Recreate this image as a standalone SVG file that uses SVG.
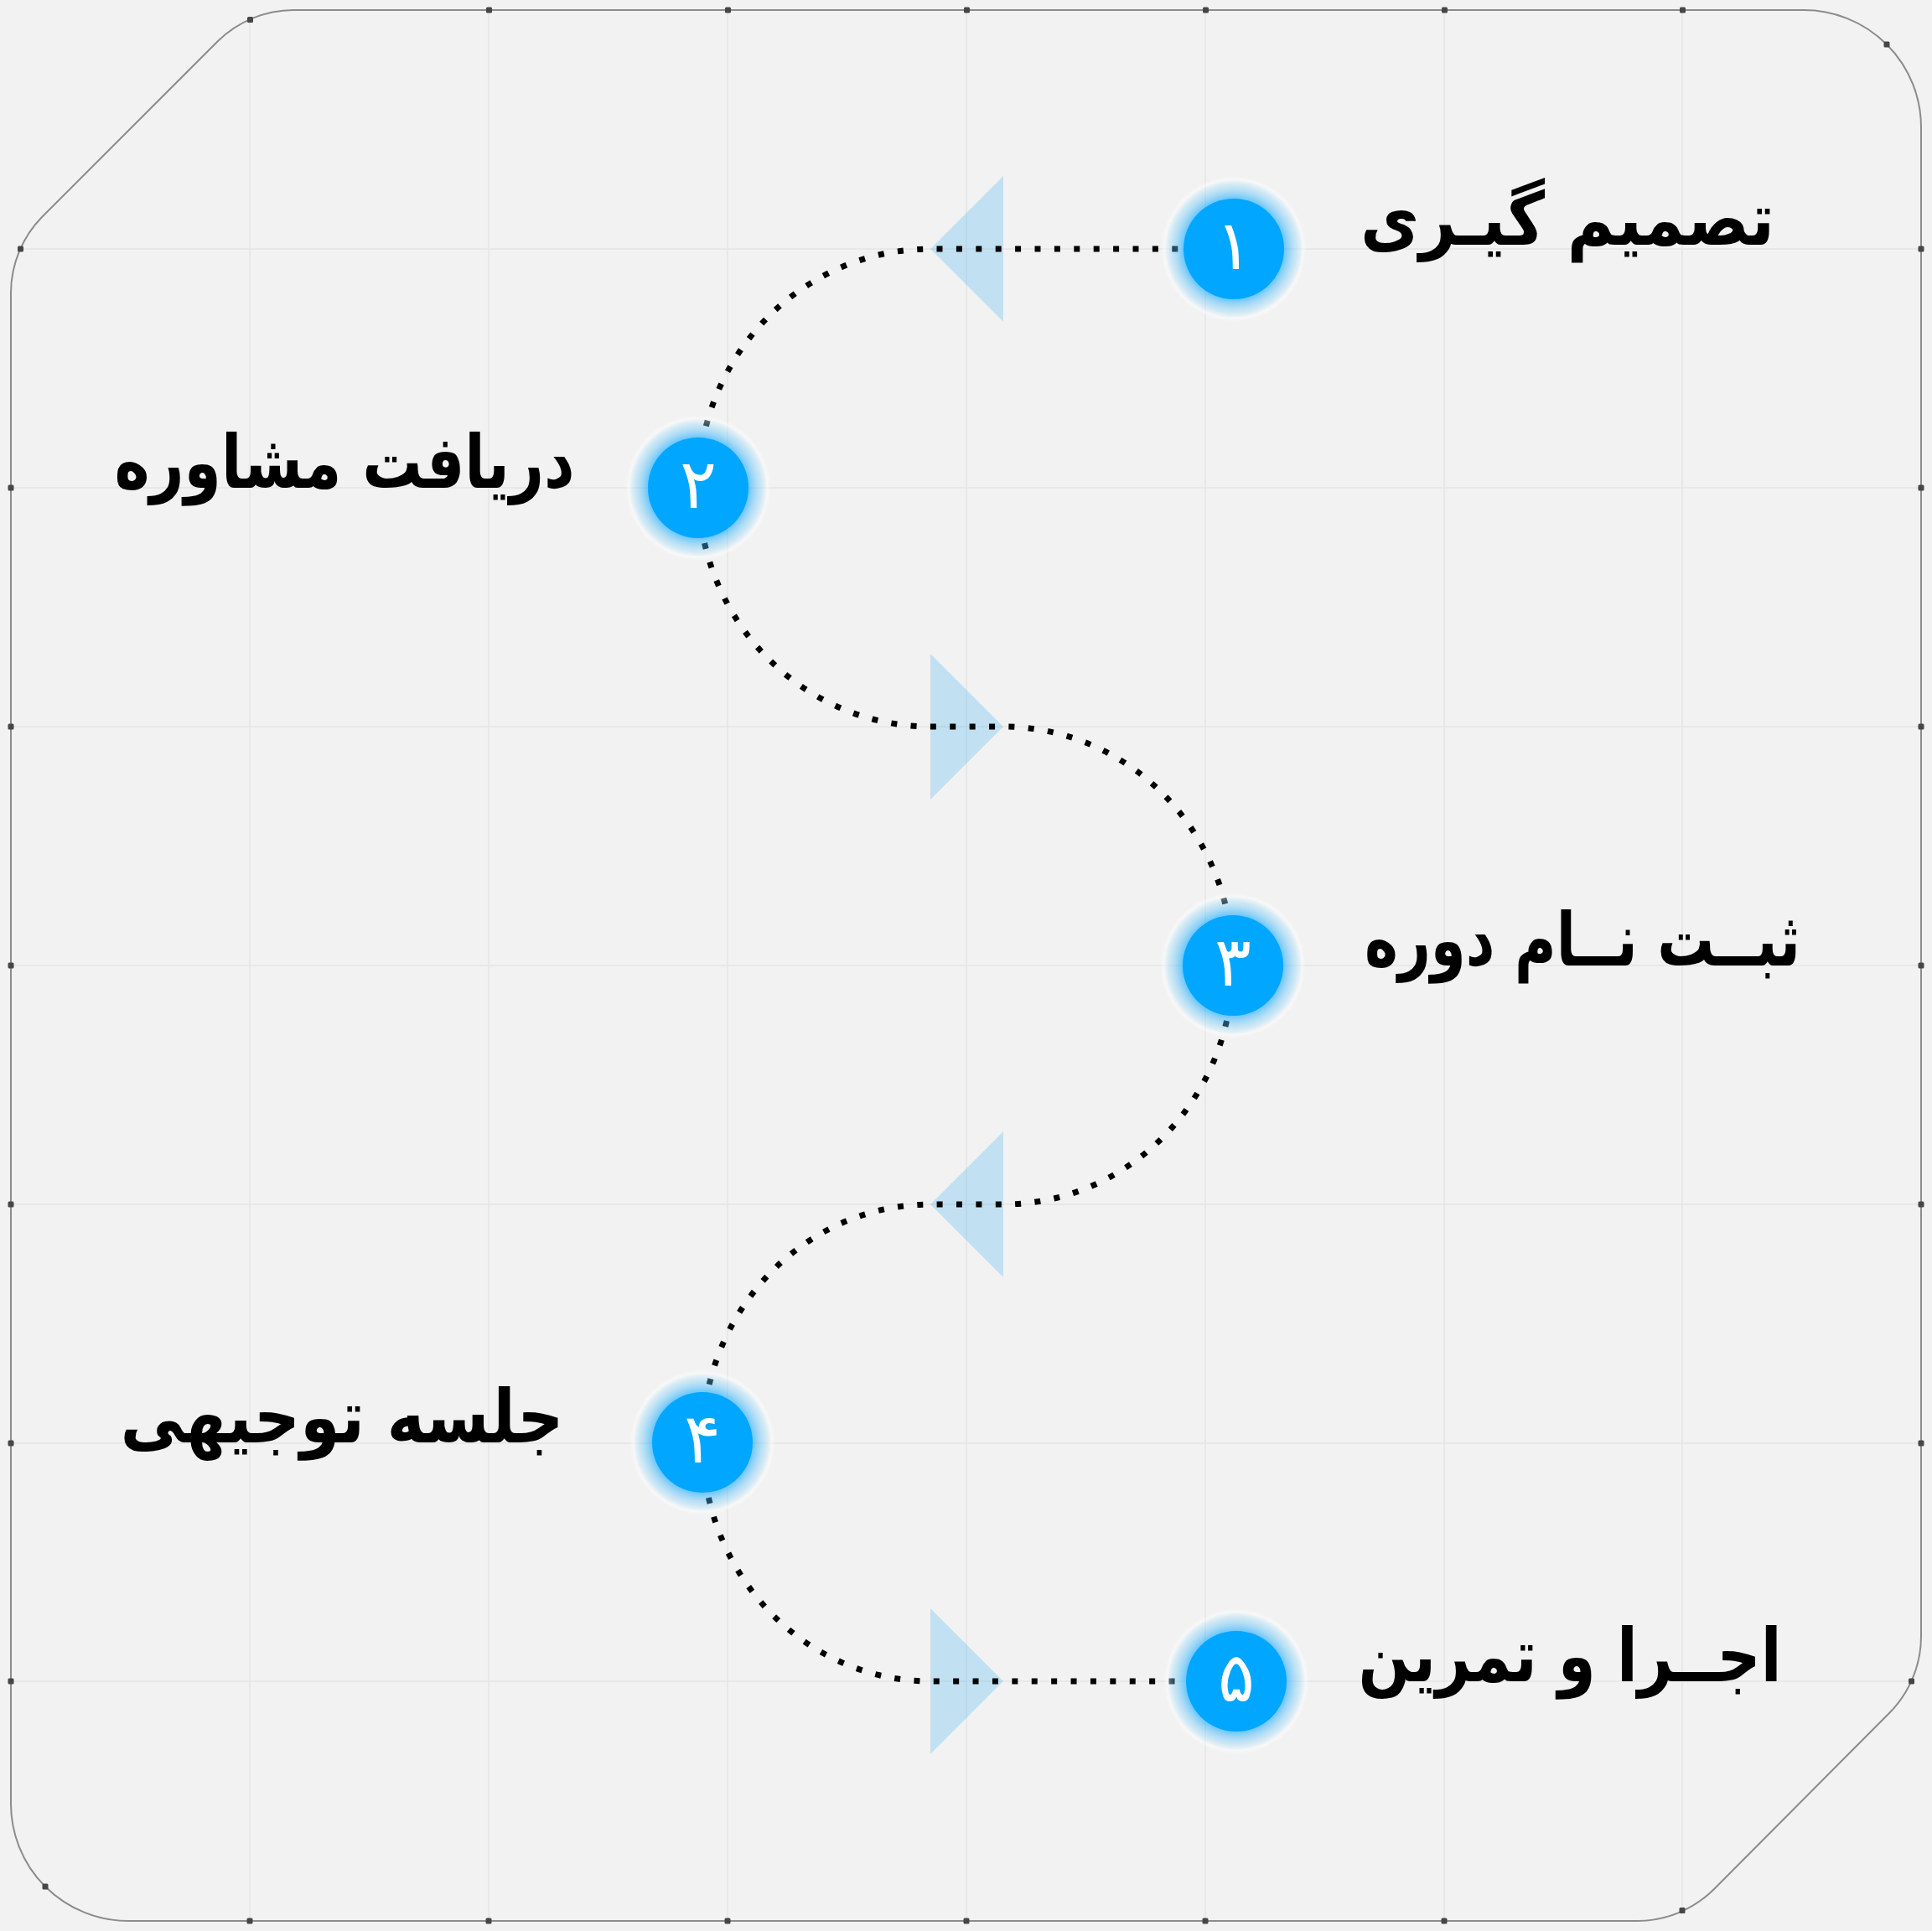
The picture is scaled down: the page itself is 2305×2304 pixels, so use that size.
<svg xmlns="http://www.w3.org/2000/svg" width="2305" height="2304" viewBox="0 0 2305 2304">
  <defs>
    <style>
      .grid line { stroke: #e4e4e4; stroke-width: 1.5; }
      .tick { fill: #464646; }
      .frame { fill: #f2f2f2; stroke: #8c8c8c; stroke-width: 2; }
      .conn { fill: none; stroke: #000; stroke-width: 7; stroke-dasharray: 7 16.4; stroke-dashoffset: 3.5; }
      .arrow { fill: #00a0f5; fill-opacity: 0.2; }
      .core { fill: #00a6ff; }
      .glow { fill: url(#glow); }
      .num { font-family: "DejaVu Sans", sans-serif; font-size: 82px; fill: #ffffff; text-anchor: middle; }
      .label { font-family: "DejaVu Sans", sans-serif; font-weight: bold; font-size: 88px; fill: #000; text-anchor: middle; }
    </style>
    <radialGradient id="glow" cx="0.5" cy="0.5" r="0.5">
      <stop offset="0" stop-color="#00a3ff" stop-opacity="0.6"/>
      <stop offset="0.69" stop-color="#00a3ff" stop-opacity="0.55"/>
      <stop offset="0.84" stop-color="#6cc8f8" stop-opacity="0.35"/>
      <stop offset="0.95" stop-color="#ffffff" stop-opacity="0.45"/>
      <stop offset="1" stop-color="#ffffff" stop-opacity="0"/>
    </radialGradient>
    <clipPath id="frameClip">
      <path d="M350 12 H2152 A140 140 0 0 1 2292 152 V1953 A130 130 0 0 1 2254.5 2043.5 L2044.5 2254.5 A130 130 0 0 1 1954 2292 H153 A140 140 0 0 1 13 2152 V349 A130 130 0 0 1 50.5 258.5 L259.5 49.5 A130 130 0 0 1 350 12 Z"/>
    </clipPath>
  </defs>

  <rect x="0" y="0" width="2305" height="2304" fill="#f2f2f2"/>

  <g id="frame">
    <path class="frame" d="M350 12 H2152 A140 140 0 0 1 2292 152 V1953 A130 130 0 0 1 2254.5 2043.5 L2044.5 2254.5 A130 130 0 0 1 1954 2292 H153 A140 140 0 0 1 13 2152 V349 A130 130 0 0 1 50.5 258.5 L259.5 49.5 A130 130 0 0 1 350 12 Z"/>
  </g>

  <g id="grid" class="grid" clip-path="url(#frameClip)">
    <line x1="298" y1="0" x2="298" y2="2304"/>
    <line x1="583" y1="0" x2="583" y2="2304"/>
    <line x1="868" y1="0" x2="868" y2="2304"/>
    <line x1="1153" y1="0" x2="1153" y2="2304"/>
    <line x1="1438" y1="0" x2="1438" y2="2304"/>
    <line x1="1723" y1="0" x2="1723" y2="2304"/>
    <line x1="2007" y1="0" x2="2007" y2="2304"/>
    <line x1="0" y1="297" x2="2305" y2="297"/>
    <line x1="0" y1="582" x2="2305" y2="582"/>
    <line x1="0" y1="867" x2="2305" y2="867"/>
    <line x1="0" y1="1152" x2="2305" y2="1152"/>
    <line x1="0" y1="1437" x2="2305" y2="1437"/>
    <line x1="0" y1="1722" x2="2305" y2="1722"/>
    <line x1="0" y1="2006" x2="2305" y2="2006"/>
  </g>

  <g id="ticks">
    <rect class="tick" x="295" y="20" width="7" height="7" rx="1.5"/>
    <rect class="tick" x="580" y="8.5" width="7" height="7" rx="1.5"/>
    <rect class="tick" x="865" y="8.5" width="7" height="7" rx="1.5"/>
    <rect class="tick" x="1150" y="8.5" width="7" height="7" rx="1.5"/>
    <rect class="tick" x="1435" y="8.5" width="7" height="7" rx="1.5"/>
    <rect class="tick" x="1720" y="8.5" width="7" height="7" rx="1.5"/>
    <rect class="tick" x="2004" y="8.5" width="7" height="7" rx="1.5"/>
    <rect class="tick" x="2247.5" y="49.5" width="7" height="7" rx="1.5"/>
    <rect class="tick" x="2288.5" y="293.5" width="7" height="7" rx="1.5"/>
    <rect class="tick" x="2288.5" y="578.5" width="7" height="7" rx="1.5"/>
    <rect class="tick" x="2288.5" y="863.5" width="7" height="7" rx="1.5"/>
    <rect class="tick" x="2288.5" y="1148.5" width="7" height="7" rx="1.5"/>
    <rect class="tick" x="2288.5" y="1433.5" width="7" height="7" rx="1.5"/>
    <rect class="tick" x="2288.5" y="1718.5" width="7" height="7" rx="1.5"/>
    <rect class="tick" x="2277" y="2002.5" width="7" height="7" rx="1.5"/>
    <rect class="tick" x="2003.5" y="2276" width="7" height="7" rx="1.5"/>
    <rect class="tick" x="1719.5" y="2288.5" width="7" height="7" rx="1.5"/>
    <rect class="tick" x="1434.5" y="2288.5" width="7" height="7" rx="1.5"/>
    <rect class="tick" x="1149.5" y="2288.5" width="7" height="7" rx="1.5"/>
    <rect class="tick" x="864.5" y="2288.5" width="7" height="7" rx="1.5"/>
    <rect class="tick" x="579.5" y="2288.5" width="7" height="7" rx="1.5"/>
    <rect class="tick" x="294.5" y="2288.5" width="7" height="7" rx="1.5"/>
    <rect class="tick" x="50.5" y="2247.5" width="7" height="7" rx="1.5"/>
    <rect class="tick" x="9.5" y="2002.5" width="7" height="7" rx="1.5"/>
    <rect class="tick" x="9.5" y="1718.5" width="7" height="7" rx="1.5"/>
    <rect class="tick" x="9.5" y="1433.5" width="7" height="7" rx="1.5"/>
    <rect class="tick" x="9.5" y="1148.5" width="7" height="7" rx="1.5"/>
    <rect class="tick" x="9.5" y="863.5" width="7" height="7" rx="1.5"/>
    <rect class="tick" x="9.5" y="578.5" width="7" height="7" rx="1.5"/>
    <rect class="tick" x="21" y="293.5" width="7" height="7" rx="1.5"/>
  </g>

  <g id="connectors">
    <polygon class="arrow" points="1110,297 1197,210 1197,384"/>
    <polygon class="arrow" points="1197,867 1110,780 1110,954"/>
    <polygon class="arrow" points="1110,1437 1197,1350 1197,1524"/>
    <polygon class="arrow" points="1197,2006 1110,1919 1110,2093"/>
    <path class="conn" d="M1472 297 H1110 A277 285 0 0 0 833 582"/>
    <path class="conn" d="M833 582 A277 285 0 0 0 1110 867 H1197 A274 285 0 0 1 1471 1152"/>
    <path class="conn" d="M1471 1152 A274 285 0 0 1 1197 1437 H1110 A272 284 0 0 0 838 1721"/>
    <path class="conn" d="M838 1721 A272 285 0 0 0 1110 2006 H1475"/>
  </g>

  <g id="node-1">
    <circle class="glow" cx="1472" cy="297" r="87"/>
    <circle class="core" cx="1472" cy="297" r="60"/>
    <text class="num" x="1472" y="321">۱</text>
    <text class="label" x="1870" y="292" textLength="494" lengthAdjust="spacingAndGlyphs">تصمیم گیـری</text>
  </g>
  <g id="node-2">
    <circle class="glow" cx="833" cy="582" r="87"/>
    <circle class="core" cx="833" cy="582" r="60"/>
    <text class="num" x="833" y="606">۲</text>
    <text class="label" x="411" y="582" textLength="549" lengthAdjust="spacingAndGlyphs">دریافت مشاوره</text>
  </g>
  <g id="node-3">
    <circle class="glow" cx="1471" cy="1152" r="87"/>
    <circle class="core" cx="1471" cy="1152" r="60"/>
    <text class="num" x="1471" y="1176">۳</text>
    <text class="label" x="1888" y="1152" textLength="520" lengthAdjust="spacingAndGlyphs">ثبــت نــام دوره</text>
  </g>
  <g id="node-4">
    <circle class="glow" cx="838" cy="1721" r="87"/>
    <circle class="core" cx="838" cy="1721" r="60"/>
    <text class="num" x="838" y="1745">۴</text>
    <text class="label" x="408" y="1721" textLength="529" lengthAdjust="spacingAndGlyphs">جلسه توجیهی</text>
  </g>
  <g id="node-5">
    <circle class="glow" cx="1475" cy="2006" r="87"/>
    <circle class="core" cx="1475" cy="2006" r="60"/>
    <text class="num" x="1475" y="2030">۵</text>
    <text class="label" x="1873" y="2006" textLength="505" lengthAdjust="spacingAndGlyphs">اجــرا و تمرین</text>
  </g>
</svg>
